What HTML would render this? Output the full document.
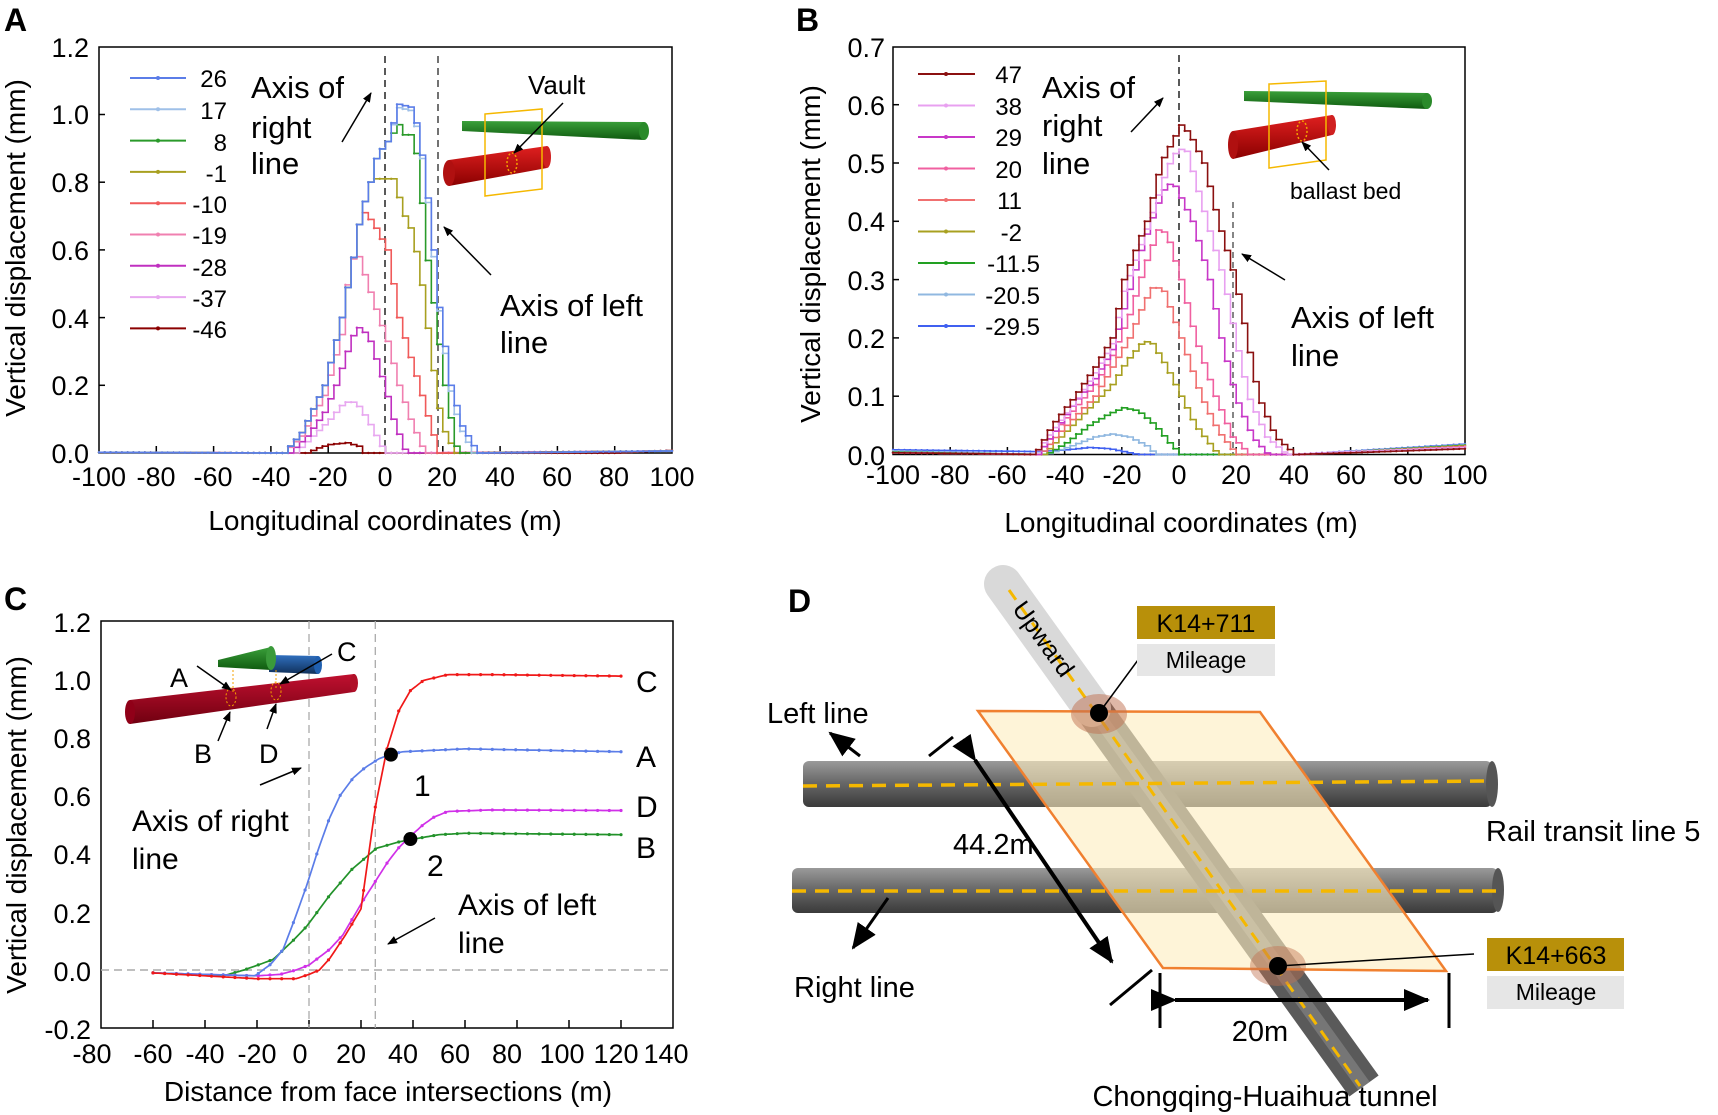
<!DOCTYPE html>
<html><head><meta charset="utf-8"><style>
html,body{margin:0;padding:0;background:#fff;}
svg{display:block;font-family:"Liberation Sans",Arial,sans-serif;}
</style></head><body>
<svg id="s" width="1718" height="1115" viewBox="0 0 1718 1115" xmlns="http://www.w3.org/2000/svg">
<defs>
<marker id="ah" markerWidth="10" markerHeight="8" refX="9" refY="4" orient="auto" markerUnits="userSpaceOnUse"><path d="M0,0 L10,4 L0,8 z" fill="#000"/></marker>
<marker id="ahb" markerWidth="26" markerHeight="22" refX="24" refY="11" orient="auto" markerUnits="userSpaceOnUse"><path d="M0,0 L26,11 L0,22 z" fill="#000"/></marker>
<linearGradient id="tg" x1="0" y1="0" x2="0" y2="1"><stop offset="0" stop-color="#9a9a9a"/><stop offset="0.45" stop-color="#6a6a6a"/><stop offset="1" stop-color="#3a3a3a"/></linearGradient>
<linearGradient id="rg" x1="0" y1="0" x2="0" y2="1"><stop offset="0" stop-color="#e02020"/><stop offset="1" stop-color="#8a0000"/></linearGradient>
<linearGradient id="gg" x1="0" y1="0" x2="0" y2="1"><stop offset="0" stop-color="#3aa03a"/><stop offset="1" stop-color="#0f5a0f"/></linearGradient>
<linearGradient id="bg" x1="0" y1="0" x2="0" y2="1"><stop offset="0" stop-color="#3070c0"/><stop offset="1" stop-color="#10305a"/></linearGradient>
<linearGradient id="cr" x1="0" y1="0" x2="0" y2="1"><stop offset="0" stop-color="#c01030"/><stop offset="1" stop-color="#700010"/></linearGradient>
</defs>
<g id="plots"></g>

<g font-weight="bold" font-size="32">
<text x="4" y="31">A</text><text x="796" y="31">B</text><text x="4" y="610">C</text><text x="788" y="612">D</text>
</g>

<!-- ===== Panel A ===== -->
<g font-size="27" text-anchor="end">
<text x="89" y="463">0.0</text><text x="89" y="395">0.2</text><text x="89" y="328">0.4</text><text x="89" y="260">0.6</text><text x="89" y="192">0.8</text><text x="89" y="124">1.0</text><text x="89" y="57">1.2</text>
</g>
<g font-size="27" text-anchor="middle">
<text x="99" y="486">-100</text><text x="156" y="486">-80</text><text x="213" y="486">-60</text><text x="271" y="486">-40</text><text x="328" y="486">-20</text><text x="385" y="486">0</text><text x="442" y="486">20</text><text x="500" y="486">40</text><text x="557" y="486">60</text><text x="614" y="486">80</text><text x="672" y="486">100</text>
</g>
<g font-size="28" text-anchor="middle">
<text x="385" y="530">Longitudinal coordinates (m)</text>
<text transform="translate(25,248) rotate(-90)">Vertical displacement  (mm)</text>
</g>
<g font-size="24" text-anchor="end">
<text x="227" y="87">26</text><text x="227" y="119">17</text><text x="227" y="151">8</text><text x="227" y="182">-1</text><text x="227" y="213">-10</text><text x="227" y="244">-19</text><text x="227" y="276">-28</text><text x="227" y="307">-37</text><text x="227" y="338">-46</text>
</g>
<g font-size="31">
<text x="251" y="98">Axis of</text><text x="251" y="138">right</text><text x="251" y="174">line</text>
<text x="500" y="316">Axis of left</text><text x="500" y="353">line</text>
<text x="528" y="94" font-size="26">Vault</text>
</g>
<line x1="342" y1="142" x2="371" y2="93" stroke="#000" stroke-width="1.5" marker-end="url(#ah)"/>
<line x1="491" y1="275" x2="444" y2="227" stroke="#000" stroke-width="1.5" marker-end="url(#ah)"/>
<polygon points="462,121 644,122 644,140 462,131" fill="url(#gg)"/><ellipse cx="644" cy="131" rx="5" ry="9" fill="#2a8a2a"/>
<polygon points="449,160 547,146 547,168 449,186" fill="url(#rg)"/><ellipse cx="449" cy="173" rx="6" ry="13" fill="#b01010"/><ellipse cx="547" cy="157" rx="4" ry="11" fill="#d02020"/>
<polygon points="485,114 542,109 542,189 485,196" fill="none" stroke="#f5b800" stroke-width="1.5"/>
<ellipse cx="512" cy="163" rx="5" ry="10" fill="none" stroke="#f5a000" stroke-width="1.5" stroke-dasharray="2 2"/>
<line x1="563" y1="103" x2="514" y2="153" stroke="#000" stroke-width="1.5" marker-end="url(#ah)"/>

<!-- ===== Panel B ===== -->
<g font-size="27" text-anchor="end">
<text x="885" y="465">0.0</text><text x="885" y="406">0.1</text><text x="885" y="348">0.2</text><text x="885" y="290">0.3</text><text x="885" y="231">0.4</text><text x="885" y="173">0.5</text><text x="885" y="115">0.6</text><text x="885" y="57">0.7</text>
</g>
<g font-size="27" text-anchor="middle">
<text x="893" y="484">-100</text><text x="950" y="484">-80</text><text x="1007" y="484">-60</text><text x="1065" y="484">-40</text><text x="1122" y="484">-20</text><text x="1179" y="484">0</text><text x="1236" y="484">20</text><text x="1294" y="484">40</text><text x="1351" y="484">60</text><text x="1408" y="484">80</text><text x="1465" y="484">100</text>
</g>
<g font-size="28" text-anchor="middle">
<text x="1181" y="532">Longitudinal coordinates (m)</text>
<text transform="translate(820,254) rotate(-90)">Vertical displacement  (mm)</text>
</g>
<g font-size="24">
<text x="1022" y="83" text-anchor="end">47</text><text x="1022" y="115" text-anchor="end">38</text><text x="1022" y="146" text-anchor="end">29</text><text x="1022" y="178" text-anchor="end">20</text><text x="1022" y="209" text-anchor="end">11</text><text x="1022" y="241" text-anchor="end">-2</text><text x="1040" y="272" text-anchor="end">-11.5</text><text x="1040" y="304" text-anchor="end">-20.5</text><text x="1040" y="335" text-anchor="end">-29.5</text>
</g>
<g font-size="31">
<text x="1042" y="98">Axis of</text><text x="1042" y="136">right</text><text x="1042" y="174">line</text>
<text x="1291" y="328">Axis of left</text><text x="1291" y="366">line</text>
<text x="1290" y="199" font-size="23">ballast bed</text>
</g>
<line x1="1131" y1="132" x2="1163" y2="98" stroke="#000" stroke-width="1.5" marker-end="url(#ah)"/>
<line x1="1285" y1="280" x2="1242" y2="254" stroke="#000" stroke-width="1.5" marker-end="url(#ah)"/>
<polygon points="1244,91 1427,93 1427,109 1244,101" fill="url(#gg)"/><ellipse cx="1427" cy="101" rx="5" ry="8" fill="#2a8a2a"/>
<polygon points="1233,131 1332,115 1332,135 1233,159" fill="url(#rg)"/><ellipse cx="1233" cy="145" rx="5" ry="14" fill="#b01010"/><ellipse cx="1332" cy="125" rx="4" ry="10" fill="#d02020"/>
<polygon points="1269,84 1326,81 1326,160 1269,168" fill="none" stroke="#f5b800" stroke-width="1.5"/>
<ellipse cx="1302" cy="131" rx="5" ry="10" fill="none" stroke="#f5a000" stroke-width="1.5" stroke-dasharray="2 2"/>
<line x1="1329" y1="170" x2="1302" y2="142" stroke="#000" stroke-width="1.5" marker-end="url(#ah)"/>

<!-- ===== Panel C ===== -->
<g font-size="27" text-anchor="end">
<text x="91" y="1039">-0.2</text><text x="91" y="981">0.0</text><text x="91" y="923">0.2</text><text x="91" y="864">0.4</text><text x="91" y="806">0.6</text><text x="91" y="748">0.8</text><text x="91" y="690">1.0</text><text x="91" y="632">1.2</text>
</g>
<g font-size="27" text-anchor="middle">
<text x="92" y="1063">-80</text><text x="153" y="1063">-60</text><text x="205" y="1063">-40</text><text x="257" y="1063">-20</text><text x="300" y="1063">0</text><text x="351" y="1063">20</text><text x="403" y="1063">40</text><text x="455" y="1063">60</text><text x="507" y="1063">80</text><text x="562" y="1063">100</text><text x="616" y="1063">120</text><text x="666" y="1063">140</text>
</g>
<g font-size="28" text-anchor="middle">
<text x="388" y="1101">Distance from  face intersections (m)</text>
<text transform="translate(26,825) rotate(-90)">Vertical displacement (mm)</text>
</g>
<g font-size="30">
<text x="132" y="831">Axis of right</text><text x="132" y="869">line</text>
<text x="458" y="915">Axis of left</text><text x="458" y="953">line</text>
<text x="414" y="796">1</text><text x="427" y="876">2</text>
<text x="636" y="692">C</text><text x="636" y="767">A</text><text x="636" y="817">D</text><text x="636" y="858">B</text>
<text x="170" y="687" font-size="27">A</text><text x="337" y="661" font-size="27">C</text><text x="194" y="763" font-size="27">B</text><text x="259" y="763" font-size="27">D</text>
</g>
<line x1="260" y1="785" x2="301" y2="768" stroke="#000" stroke-width="1.5" marker-end="url(#ah)"/>
<line x1="435" y1="918" x2="388" y2="944" stroke="#000" stroke-width="1.5" marker-end="url(#ah)"/>
<polygon points="269,655 318,656 318,674 269,672" fill="url(#bg)"/><ellipse cx="318" cy="665" rx="4" ry="9" fill="#2060b0"/>
<polygon points="218,660 271,647 271,670 218,667" fill="url(#gg)"/><ellipse cx="271" cy="658" rx="5" ry="12" fill="#3a9a3a"/>
<polygon points="130,700 354,674 354,692 130,724" fill="url(#cr)"/><ellipse cx="130" cy="712" rx="5" ry="12" fill="#900018"/><ellipse cx="354" cy="683" rx="4" ry="9" fill="#b01028"/>
<line x1="233" y1="670" x2="233" y2="694" stroke="#f5a000" stroke-dasharray="2 2"/><line x1="276" y1="670" x2="276" y2="688" stroke="#f5a000" stroke-dasharray="2 2"/>
<ellipse cx="231" cy="697" rx="5" ry="9" fill="none" stroke="#f5a000" stroke-dasharray="2 2"/><ellipse cx="276" cy="691" rx="5" ry="9" fill="none" stroke="#f5a000" stroke-dasharray="2 2"/>
<line x1="197" y1="666" x2="231" y2="690" stroke="#000" stroke-width="1.5" marker-end="url(#ah)"/>
<line x1="332" y1="654" x2="280" y2="684" stroke="#000" stroke-width="1.5" marker-end="url(#ah)"/>
<line x1="218" y1="741" x2="230" y2="712" stroke="#000" stroke-width="1.5" marker-end="url(#ah)"/>
<line x1="267" y1="729" x2="276" y2="704" stroke="#000" stroke-width="1.5" marker-end="url(#ah)"/>

<!-- ===== Panel D ===== -->
<g>
<rect x="803" y="761" width="689" height="46" rx="6" fill="url(#tg)"/>
<ellipse cx="1492" cy="784" rx="6" ry="23" fill="#555"/>
<rect x="792" y="868" width="706" height="45" rx="6" fill="url(#tg)"/>
<ellipse cx="1498" cy="890" rx="6" ry="22" fill="#555"/>
<line x1="1090" y1="705" x2="1364" y2="1086" stroke="#5a5a5a" stroke-width="36"/>
<line x1="1090" y1="705" x2="1364" y2="1086" stroke="#8a8a8a" stroke-width="14" opacity="0.6"/>
<line x1="1003" y1="584" x2="1092" y2="708" stroke="#d9d9d9" stroke-width="38" stroke-linecap="round"/>
<polygon points="978,711 1260,712 1446,971 1163,968" fill="#fdeec0" fill-opacity="0.62" stroke="#f08030" stroke-width="2.5"/>
<line x1="803" y1="786" x2="1492" y2="781" stroke="#f5b800" stroke-width="3.5" stroke-dasharray="14 9"/>
<line x1="792" y1="891" x2="1498" y2="891" stroke="#f5b800" stroke-width="3.5" stroke-dasharray="14 9"/>
<line x1="1009" y1="590" x2="1360" y2="1086" stroke="#f5b800" stroke-width="3" stroke-dasharray="12 8"/>
<text transform="translate(1042,640) rotate(54.3)" font-size="25" text-anchor="middle" dominant-baseline="middle">Upward</text>
<ellipse cx="1099" cy="714" rx="28" ry="20" fill="#c07050" opacity="0.5"/>
<ellipse cx="1278" cy="966" rx="28" ry="20" fill="#c07050" opacity="0.45"/>
<circle cx="1099" cy="713" r="9" fill="#000"/><circle cx="1278" cy="966" r="9" fill="#000"/>
<line x1="1099" y1="713" x2="1138" y2="660" stroke="#000" stroke-width="1.5"/>
<line x1="1278" y1="966" x2="1474" y2="954" stroke="#000" stroke-width="1.5"/>
<rect x="1137" y="606" width="138" height="33" fill="#b8900a"/><text x="1206" y="632" font-size="25" text-anchor="middle">K14+711</text>
<rect x="1137" y="644" width="138" height="32" fill="#e6e6e6"/><text x="1206" y="668" font-size="23" text-anchor="middle">Mileage</text>
<rect x="1487" y="938" width="137" height="33" fill="#b8900a"/><text x="1556" y="964" font-size="25" text-anchor="middle">K14+663</text>
<rect x="1487" y="976" width="137" height="33" fill="#e6e6e6"/><text x="1556" y="1000" font-size="23" text-anchor="middle">Mileage</text>
<line x1="1175" y1="1000" x2="1428" y2="1000" stroke="#000" stroke-width="4" marker-end="url(#ahb)" marker-start="url(#ahb)"/>
<line x1="1160" y1="973" x2="1160" y2="1028" stroke="#000" stroke-width="3"/>
<line x1="1449" y1="973" x2="1449" y2="1028" stroke="#000" stroke-width="3"/>
<line x1="1110" y1="1005" x2="1152" y2="970" stroke="#000" stroke-width="3"/>
<line x1="929" y1="756" x2="953" y2="737" stroke="#000" stroke-width="3"/>
<line x1="975" y1="760" x2="1112" y2="962" stroke="#000" stroke-width="4" marker-end="url(#ahb)" marker-start="url(#ahb)"/>
<line x1="860" y1="756" x2="830" y2="733" stroke="#000" stroke-width="3" marker-end="url(#ahb)"/>
<line x1="888" y1="898" x2="853" y2="948" stroke="#000" stroke-width="3" marker-end="url(#ahb)"/>
<g font-size="29">
<text x="767" y="723">Left line</text>
<text x="953" y="854">44.2m</text>
<text x="794" y="997">Right line</text>
<text x="1486" y="841">Rail transit line 5</text>
<text x="1260" y="1041" text-anchor="middle">20m</text>
<text x="1265" y="1106" text-anchor="middle">Chongqing-Huaihua tunnel</text>
</g>
</g>
</svg>
<script>
(function(){
var NS="http://www.w3.org/2000/svg",g=document.getElementById("plots");
function el(t,a){var e=document.createElementNS(NS,t);for(var k in a)e.setAttribute(k,a[k]);g.appendChild(e);return e;}
function interp(p,x){if(x<=p[0][0])return p[0][1];for(var i=1;i<p.length;i++){if(x<=p[i][0]){var a=p[i-1],b=p[i];return a[1]+(b[1]-a[1])*(x-a[0])/(b[0]-a[0]);}}return p[p.length-1][1];}
function full(p){var q=p.slice();if(q[0][0]>-100)q.unshift([-100,0.002]);if(q[q.length-1][0]<100)q.push([100,0.006]);return q;}
function frame(x0,y0,x1,y1){el("rect",{x:x0,y:y0,width:x1-x0,height:y1-y0,fill:"none",stroke:"#000","stroke-width":1.5});}
function stepPlot(curves,fx,fy){
 curves.forEach(function(c){var p=full(c.p),d="";
  for(var x=-100;x<=100;x+=2){var y=Math.max(0,interp(p,x));var X=fx(x),Y=fy(y);
   if(d==="")d="M"+X+","+Y;else d+=" H"+X+" V"+Y;}
  el("path",{d:d,fill:"none",stroke:c.c,"stroke-width":1.6});
  for(var x=-100;x<=100;x+=2){var y=Math.max(0,interp(p,x));el("circle",{cx:fx(x),cy:fy(y),r:1.2,fill:c.c});}
 });
}
var ax=function(x){return 99+(x+100)*2.865},ay=function(y){return 453-y*338.5};
frame(99,47,672,453);
for(var v=-80;v<=80;v+=20)el("line",{x1:ax(v),y1:453,x2:ax(v),y2:446,stroke:"#000","stroke-width":1.5});
for(var v=0.2;v<1.2;v+=0.2)el("line",{x1:99,y1:ay(v),x2:105,y2:ay(v),stroke:"#000","stroke-width":1.5});
el("line",{x1:385,y1:56,x2:385,y2:453,stroke:"#222","stroke-width":1.5,"stroke-dasharray":"7 5"});
el("line",{x1:438,y1:56,x2:438,y2:453,stroke:"#444","stroke-width":1.5,"stroke-dasharray":"7 5"});
var rise=[[-36,0],[-30,0.06],[-22,0.2],[-16,0.4],[-11.5,0.6],[-9.5,0.7],[-6,0.8],[-3.7,0.88],[0,0.92]];
var A=[
 {c:"#8b0000",p:[[-28,0],[-24,0.015],[-20,0.025],[-14,0.03],[-10,0.02],[-8,0],[80,0],[100,0.008]]},
 {c:"#e8a8f0",p:[[-32,0],[-26,0.05],[-20,0.1],[-15,0.15],[-11,0.15],[-7,0.1],[-2,0.02],[-1,0]]},
 {c:"#c030c0",p:[[-34,0],[-28,0.05],[-22,0.12],[-18,0.2],[-14,0.3],[-11,0.37],[-9,0.37],[-6,0.33],[-1,0.2],[2,0.1],[6.5,0]]},
 {c:"#f080b0",p:[[-36,0],[-30,0.05],[-22,0.17],[-16,0.35],[-13,0.57],[-10,0.58],[-7,0.5],[-3,0.4],[0,0.33],[4,0.2],[8,0.1],[13,0]]},
 {c:"#f05a5a",p:rise.slice(0,6).concat([[-8,0.71],[-5,0.68],[0,0.6],[4,0.4],[7,0.31],[11,0.2],[15,0.08],[18,0]])},
 {c:"#a8a020",p:rise.slice(0,7).concat([[-4,0.81],[3,0.81],[5,0.7],[7,0.7],[11,0.56],[13.5,0.4],[16.7,0.2],[19,0.08],[23.7,0]])},
 {c:"#2a9a2a",p:rise.concat([[4,0.97],[5,0.94],[9,0.94],[11,0.83],[13.5,0.6],[16.7,0.4],[20,0.2],[22.5,0.08],[24.5,0]])},
 {c:"#9fc0e8",p:rise.concat([[4,1.02],[9,1.01],[11,0.92],[13,0.82],[16,0.58],[18,0.42],[21.5,0.2],[25,0.08],[30,0]])},
 {c:"#5b7de8",p:rise.concat([[4,1.03],[9,1.02],[11,0.93],[13,0.83],[16,0.6],[18,0.43],[22,0.2],[26,0.08],[31.5,0]])}
];
stepPlot(A,ax,ay);
var la=["#5b7de8","#9fc0e8","#2a9a2a","#a8a020","#f05a5a","#f080b0","#c030c0","#e8a8f0","#8b0000"];
la.forEach(function(c,i){var y=78+i*31.3;el("line",{x1:130,y1:y,x2:186,y2:y,stroke:c,"stroke-width":2});el("circle",{cx:158,cy:y,r:2,fill:c});});
var bx=function(x){return 893+(x+100)*2.86},by=function(y){return 454.5-y*583};
frame(893,47,1465,454.5);
for(var v=-80;v<=80;v+=20)el("line",{x1:bx(v),y1:454,x2:bx(v),y2:447,stroke:"#000","stroke-width":1.5});
for(var v=0.1;v<0.7;v+=0.1)el("line",{x1:893,y1:by(v),x2:899,y2:by(v),stroke:"#000","stroke-width":1.5});
el("line",{x1:1179,y1:55,x2:1179,y2:454,stroke:"#222","stroke-width":1.5,"stroke-dasharray":"7 5"});
el("line",{x1:1233,y1:202,x2:1233,y2:454,stroke:"#444","stroke-width":1.3,"stroke-dasharray":"6 4"});
var B=[
 {c:"#4060f0",p:[[-100,0.008],[-50,0.005],[-40,0.008],[-32,0.012],[-25,0.01],[-20,0.005],[-15,0],[40,0],[100,0.018]]},
 {c:"#90b8e0",p:[[-100,0.006],[-47,0],[-38,0.015],[-30,0.03],[-24,0.035],[-18,0.03],[-12,0.015],[-8.7,0],[42,0],[100,0.017]]},
 {c:"#22a022",p:[[-100,0.004],[-47,0],[-40,0.02],[-32,0.05],[-25,0.07],[-20,0.08],[-15,0.075],[-9,0.05],[-4,0.02],[0,0],[42,0],[100,0.016]]},
 {c:"#a8a020",p:[[-100,0.003],[-48,0],[-42,0.03],[-36,0.06],[-30,0.09],[-24,0.12],[-19,0.16],[-13,0.195],[-10,0.19],[-5,0.15],[0,0.1],[5,0.05],[13,0],[42,0],[100,0.015]]},
 {c:"#f07070",p:[[-100,0.003],[-49,0],[-43,0.035],[-36,0.07],[-30,0.1],[-24,0.15],[-18,0.2],[-13,0.26],[-9.5,0.29],[-6,0.28],[0,0.2],[7,0.1],[13,0.04],[19.5,0],[42,0],[100,0.014]]},
 {c:"#f060a0",p:[[-100,0.003],[-50,0],[-44,0.04],[-37,0.08],[-30,0.12],[-24,0.17],[-18,0.24],[-13,0.32],[-8,0.385],[-5,0.38],[0,0.3],[5,0.2],[12,0.1],[18,0.03],[24,0],[42,0],[100,0.013]]},
 {c:"#c838c8",p:[[-100,0.003],[-50,0],[-44,0.04],[-37,0.09],[-30,0.13],[-24,0.18],[-20,0.25],[-14,0.35],[-9,0.42],[-5,0.465],[-2,0.46],[4,0.4],[10,0.3],[14,0.2],[19,0.1],[25,0.03],[30.5,0],[42,0],[100,0.012]]},
 {c:"#e8a0f0",p:[[-100,0.003],[-51,0],[-45,0.04],[-37,0.09],[-30,0.14],[-24,0.19],[-20,0.28],[-11,0.4],[-5,0.49],[-1,0.525],[2,0.52],[9,0.4],[15,0.3],[19,0.2],[23.5,0.1],[30,0.03],[37,0],[60,0.005],[100,0.012]]},
 {c:"#8b1010",p:[[-100,0.003],[-51,0],[-45,0.05],[-37,0.1],[-30,0.15],[-24,0.2],[-20,0.3],[-12,0.4],[-7,0.5],[0,0.565],[3,0.55],[8,0.5],[13,0.4],[19,0.3],[23,0.2],[27,0.1],[33,0.03],[40,0],[60,0.003],[100,0.01]]}
];
stepPlot(B,bx,by);
var lb=["#8b1010","#e8a0f0","#c838c8","#f060a0","#f07070","#a8a020","#22a022","#90b8e0","#4060f0"];
lb.forEach(function(c,i){var y=74+i*31.5;el("line",{x1:918,y1:y,x2:975,y2:y,stroke:c,"stroke-width":2});el("circle",{cx:946,cy:y,r:2,fill:c});});
var cx=function(x){return 101+(x+80)*2.6},cy=function(y){return 970-y*291};
frame(101,621,673,1028);
for(var v=-60;v<=120;v+=20)el("line",{x1:cx(v),y1:1028,x2:cx(v),y2:1020,stroke:"#000","stroke-width":1.5});
el("line",{x1:101,y1:970,x2:673,y2:970,stroke:"#aaa","stroke-width":1.5,"stroke-dasharray":"8 5"});
el("line",{x1:cx(0),y1:621,x2:cx(0),y2:1028,stroke:"#aaa","stroke-width":1.3,"stroke-dasharray":"8 5"});
el("line",{x1:cx(25.5),y1:621,x2:cx(25.5),y2:1028,stroke:"#aaa","stroke-width":1.3,"stroke-dasharray":"8 5"});
var C=[
 {c:"#22922a",p:[[-60,-0.01],[-33,-0.02],[-25,0],[-13.8,0.036],[-5.7,0.105],[-0.9,0.15],[7.8,0.255],[16.4,0.345],[25.9,0.418],[34.5,0.44],[39,0.448],[50,0.465],[60,0.47],[120,0.465]]},
 {c:"#d030e8",p:[[-60,-0.01],[-20,-0.02],[-11,-0.015],[-5,0],[0,0.017],[7.8,0.07],[13,0.12],[20.7,0.237],[25.9,0.31],[30.2,0.37],[34.5,0.42],[39,0.46],[44,0.5],[48,0.525],[53.4,0.545],[70,0.55],[120,0.548]]},
 {c:"#5b7de8",p:[[-60,-0.01],[-20.7,-0.02],[-14.7,0.02],[-10,0.07],[-5.7,0.17],[-0.9,0.29],[3.4,0.41],[7.8,0.52],[12,0.6],[17,0.66],[21.5,0.695],[26.7,0.725],[31,0.74],[36,0.75],[60,0.76],[120,0.75]]},
 {c:"#f01818",p:[[-60,-0.01],[-20,-0.03],[-5,-0.03],[0,-0.015],[4,0.0],[8,0.04],[14,0.12],[20,0.21],[25.5,0.56],[30,0.76],[34.5,0.89],[39,0.96],[44,0.995],[53.4,1.015],[70,1.015],[120,1.01]]}
];
C.forEach(function(c){var d="";for(var x=-60;x<=120;x+=1){var X=cx(x),Y=cy(interp(c.p,x));d+=(d?" L":"M")+X.toFixed(1)+","+Y.toFixed(1);}
 el("path",{d:d,fill:"none",stroke:c.c,"stroke-width":1.7});
 for(var x=-60;x<=120;x+=4.5)el("circle",{cx:cx(x),cy:cy(interp(c.p,x)),r:1.6,fill:c.c});});
el("circle",{cx:cx(31.5),cy:cy(0.74),r:7,fill:"#000"});
el("circle",{cx:cx(39),cy:cy(0.45),r:7,fill:"#000"});
})();
</script>
</body></html>
